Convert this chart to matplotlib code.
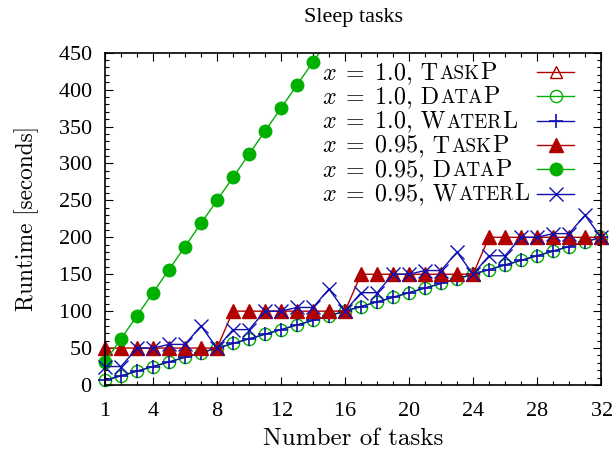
import matplotlib
matplotlib.use('Agg')
import matplotlib.pyplot as plt
from matplotlib.ticker import FixedLocator, MultipleLocator
from matplotlib.lines import Line2D

plt.rcParams['font.family'] = ['cmr10', 'DejaVu Serif']
plt.rcParams['mathtext.fontset'] = 'cm'
plt.rcParams['axes.formatter.use_mathtext'] = True

# ---------------- data ----------------
tasks = list(range(1, 33))
taskp_100 = []  # no visible marks in the reference
datap_100 = [6.25, 12.5, 18.75, 25, 31.25, 37.5, 43.75, 50, 56.25, 62.5, 68.75, 75,
             81.25, 87.5, 93.75, 100, 106.25, 112.5, 118.75, 125, 131.25, 137.5, 143.75, 150,
             156.25, 162.5, 168.75, 175, 181.25, 187.5, 193.75, 200]
waterl_100 = [6.25, 12.5, 18.75, 25, 31.25, 37.5, 43.75, 50, 56.25, 62.5, 68.75, 75,
              81.25, 87.5, 93.75, 100, 106.25, 112.5, 118.75, 125, 131.25, 137.5, 143.75, 150,
              156.25, 162.5, 168.75, 175, 181.25, 187.5, 193.75, 200]
taskp_095 = [50, 50, 50, 50, 50, 50, 50, 50, 100, 100, 100, 100, 100, 100, 100, 100,
             150, 150, 150, 150, 150, 150, 150, 150, 200, 200, 200, 200, 200, 200, 200, 200]
datap_095_tasks = list(range(1, 16))
datap_095 = [31.25, 62.5, 93.75, 125, 156.25, 187.5, 218.75, 250, 281.25, 312.5,
             343.75, 375, 406.25, 437.5, 468.75]
waterl_095 = [25, 25, 50, 50, 55, 55, 80, 50, 75, 75, 100, 100, 105, 105, 130, 100,
              125, 125, 150, 150, 155, 155, 180, 150, 175, 175, 200, 200, 205, 205, 230, 200]

xticks = [1, 4, 8, 12, 16, 20, 24, 28, 32]
yticks = [0, 50, 100, 150, 200, 250, 300, 350, 400, 450]

RED = '#b00000'
GREEN = '#00b000'
BLUE = '#1010b0'
FS = 16
TIMES = 'Liberation Serif'

fig = plt.figure(figsize=(6.16, 4.59), dpi=100)
ax = fig.add_axes([105/616, 1-385/459, (601-105)/616, (385-52.7)/459])

lw = 1.0
# x = 1.0 series (open markers)
ax.plot(taskp_100, taskp_100, color=RED, lw=lw, marker='^', mfc='none', ms=9)
ax.plot(tasks, datap_100, color=GREEN, lw=lw, marker='o', mfc='none', ms=8.8, mew=1.0, clip_on=False)
ax.plot(tasks, waterl_100, color=BLUE, lw=lw, marker='+', ms=10, mew=1.2, clip_on=False)
# x = 0.95 series (filled markers)
ax.plot(tasks, taskp_095, color=RED, lw=lw, marker='^', ms=9.5, clip_on=False)
ax.plot(datap_095_tasks, datap_095, color=GREEN, lw=lw)
vis = [(t, v) for t, v in zip(datap_095_tasks, datap_095) if v <= 450]
ax.plot([t for t, v in vis], [v for t, v in vis], ls='none', color=GREEN, marker='o', ms=9, clip_on=False)
ax.plot(tasks, waterl_095, color=BLUE, lw=lw, marker='x', ms=10, mew=1.0, clip_on=False)

ax.set_xlim(1, 32)
ax.set_ylim(0, 450)
ax.xaxis.set_major_locator(FixedLocator(xticks))
ax.xaxis.set_minor_locator(MultipleLocator(1))
ax.yaxis.set_major_locator(FixedLocator(yticks))
ax.yaxis.set_minor_locator(MultipleLocator(10))
ax.tick_params(which='both', direction='in', top=True, right=True, labelsize=FS, width=0.8,
               labelfontfamily=TIMES)
ax.tick_params(axis='x', which='major', length=6, pad=12)
ax.tick_params(axis='y', which='major', length=6, pad=9)
ax.tick_params(which='minor', length=3)
for s in ax.spines.values():
    s.set_linewidth(1.2)

ax.set_title('Sleep tasks', fontsize=16, pad=22, family=TIMES)
ax.set_xlabel('Number of tasks', fontsize=18, labelpad=5)
ax.set_ylabel('Runtime [seconds]', fontsize=16.8, labelpad=14)

# ---------------- legend (manual, small caps) ----------------
entries = [
    ('1.0', 'T', 'ASK', 'P', dict(color=RED, marker='^', mfc='none', ms=9)),
    ('1.0', 'D', 'ATA', 'P', dict(color=GREEN, marker='o', mfc='none', ms=8.8)),
    ('1.0', 'W', 'ATER', 'L', dict(color=BLUE, marker='+', ms=10, mew=1.2)),
    ('0.95', 'T', 'ASK', 'P', dict(color=RED, marker='^', ms=9.5)),
    ('0.95', 'D', 'ATA', 'P', dict(color=GREEN, marker='o', ms=9)),
    ('0.95', 'W', 'ATER', 'L', dict(color=BLUE, marker='x', ms=10)),
]
LFS = 17.3
fig.canvas.draw()
renderer = fig.canvas.get_renderer()
x_start = 322
row_center0 = 72.0
row_step = 24.3
for i, (val, big1, small, big2, st) in enumerate(entries):
    cy = row_center0 + i * row_step
    base = cy + 7.0
    xpix = x_start
    pieces = [(r'$x\;=\;' + val + '$', LFS, 0), (', ' + big1, LFS, 0),
              (small, LFS * 0.8, 0.8), (big2, LFS, 0.8)]
    for txt, size, gap in pieces:
        xpix += gap
        t = fig.text(xpix / 616, 1 - base / 459, txt, fontsize=size, va='baseline', ha='left')
        bb = t.get_window_extent(renderer)
        xpix = bb.x1
    # sample
    line = Line2D([537/616, 556/616, 574/616], [1 - cy/459] * 3, transform=fig.transFigure,
                  lw=lw, markevery=[1], **st)
    fig.add_artist(line)

fig.savefig('out.png', dpi=100)
